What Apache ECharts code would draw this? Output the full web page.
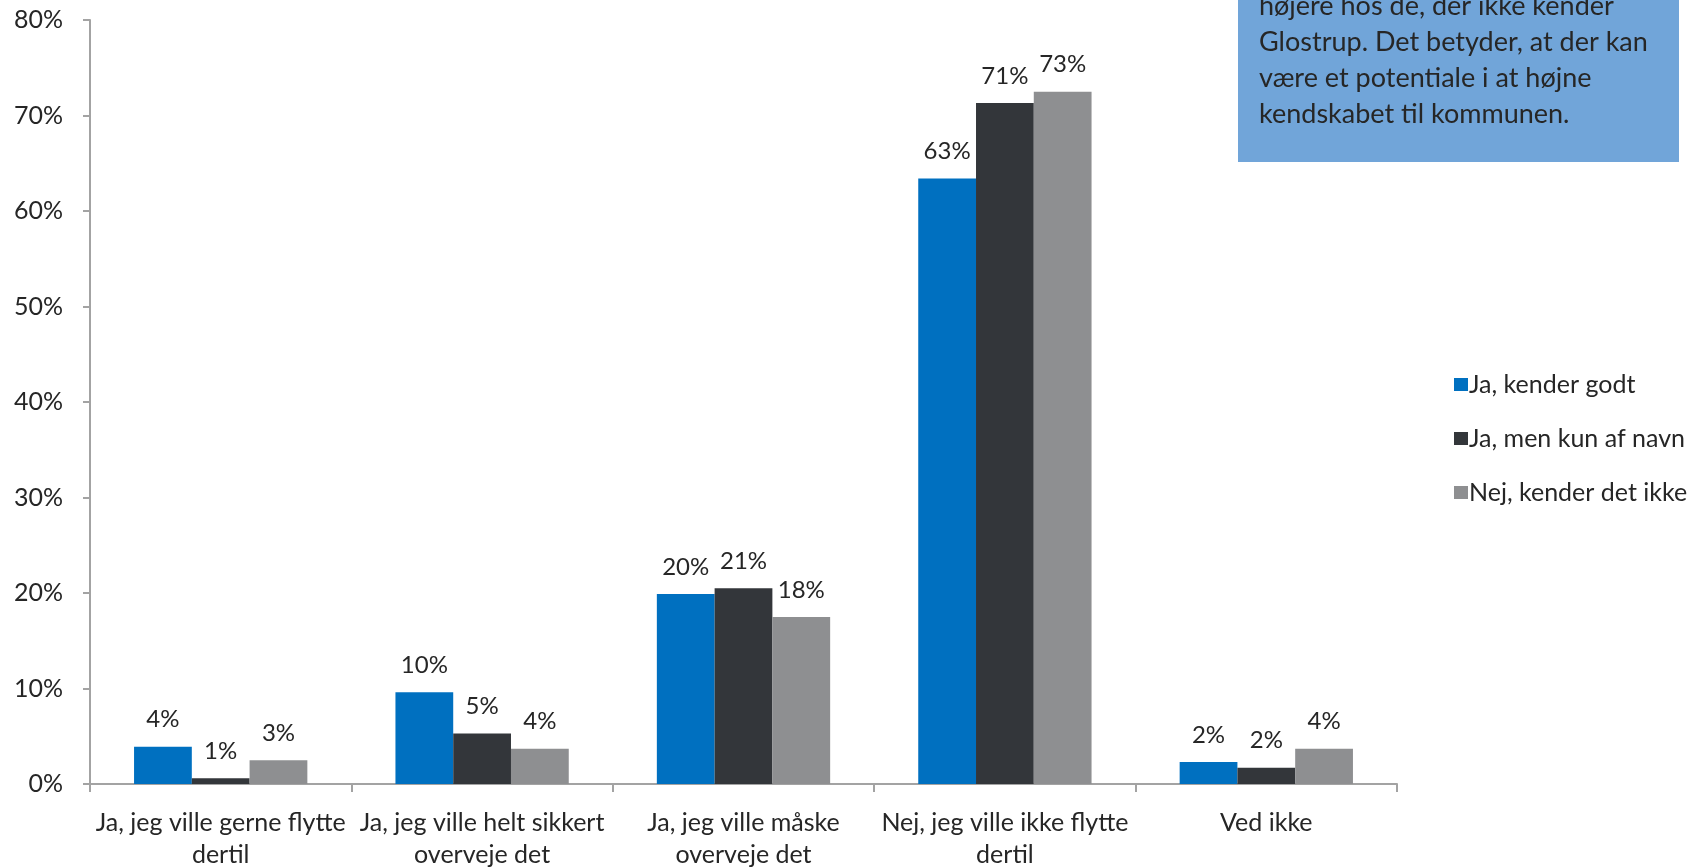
<!DOCTYPE html>
<html>
<head>
<meta charset="utf-8">
<script src="https://cdn.jsdelivr.net/npm/echarts@6/dist/echarts.min.js"></script>
<style>
  html, body { margin: 0; padding: 0; background: #ffffff; }
  #chart { width: 1697px; height: 867px; }
</style>
</head>
<body>
<div id="chart"></div>
<script>
// Survey answers: would you consider moving to Glostrup, split by how well the respondent knows the municipality
const categories = [
  'Ja, jeg ville gerne flytte\ndertil',
  'Ja, jeg ville helt sikkert\noverveje det',
  'Ja, jeg ville måske\noverveje det',
  'Nej, jeg ville ikke flytte\ndertil',
  'Ved ikke'
];
const seriesNames = ['Ja, kender godt', 'Ja, men kun af navn', 'Nej, kender det ikke'];
const kenderGodt = [3.9, 9.6, 19.9, 63.4, 2.3];
const kunAfNavn = [0.6, 5.3, 20.5, 71.3, 1.7];
const kenderIkke = [2.5, 3.7, 17.5, 72.5, 3.7];
const yTicks = [0, 10, 20, 30, 40, 50, 60, 70, 80];

const noteLines = [
  'højere hos de, der ikke kender',
  'Glostrup. Det betyder, at der kan',
  'være et potentiale i at højne',
  'kendskabet til kommunen.'
];

const FONT = 'Lato, "Open Sans", sans-serif';
const TEXT = '#262626';
const AXIS = '#a3a3a3';
const colors = ['#0070c0', '#33363a', '#8e8f91'];

const chart = echarts.init(document.getElementById('chart'), null, { renderer: 'canvas' });

function barSeries(name, data, color) {
  return {
    name: name,
    type: 'bar',
    data: data,
    barGap: '0%',
    barCategoryGap: '33.7%',
    itemStyle: { color: color },
    label: {
      show: true,
      position: 'top',
      distance: 15,
      color: TEXT,
      fontFamily: FONT,
      fontSize: 24,
      formatter: p => Math.round(p.value) + '%'
    },
    emphasis: { disabled: true }
  };
}

chart.setOption({
  animation: false,
  backgroundColor: '#ffffff',
  textStyle: { fontFamily: FONT },
  grid: {
    left: 90, right: 300, top: 20, bottom: 83,
    containLabel: false,
    outerBoundsMode: 'none'
  },
  legend: {
    orient: 'vertical',
    left: 1449,
    top: 367,
    itemWidth: 14,
    itemHeight: 13,
    itemGap: 29,
    icon: 'rect',
    data: seriesNames,
    textStyle: { color: TEXT, fontFamily: FONT, fontSize: 25, padding: [0, 0, 0, -4] }
  },
  xAxis: {
    type: 'category',
    data: categories,
    axisLine: { show: true, lineStyle: { color: AXIS, width: 2 } },
    axisTick: { show: true, length: 8, lineStyle: { color: AXIS, width: 2 } },
    axisLabel: {
      color: TEXT,
      fontFamily: FONT,
      fontSize: 25,
      lineHeight: 32,
      margin: 23,
      interval: 0
    }
  },
  yAxis: {
    type: 'value',
    min: yTicks[0],
    max: yTicks[yTicks.length - 1],
    interval: yTicks[1] - yTicks[0],
    splitLine: { show: false },
    axisLine: { show: true, lineStyle: { color: AXIS, width: 2 } },
    axisTick: { show: true, length: 7, lineStyle: { color: AXIS, width: 2 } },
    axisLabel: {
      color: TEXT,
      fontFamily: FONT,
      fontSize: 25,
      margin: 27,
      formatter: '{value}%'
    }
  },
  series: [
    barSeries(seriesNames[0], kenderGodt, colors[0]),
    barSeries(seriesNames[1], kunAfNavn, colors[1]),
    barSeries(seriesNames[2], kenderIkke, colors[2])
  ],
  graphic: [
    {
      type: 'group',
      left: 1238,
      top: -60,
      children: [
        {
          type: 'rect',
          shape: { x: 0, y: 0, width: 441, height: 222 },
          style: { fill: '#71a5d9' }
        },
        {
          type: 'text',
          x: 21,
          y: 48,
          style: {
            text: noteLines.join('\n'),
            fill: TEXT,
            font: '27px ' + FONT,
            lineHeight: 36
          }
        }
      ]
    }
  ]
});
</script>
</body>
</html>
